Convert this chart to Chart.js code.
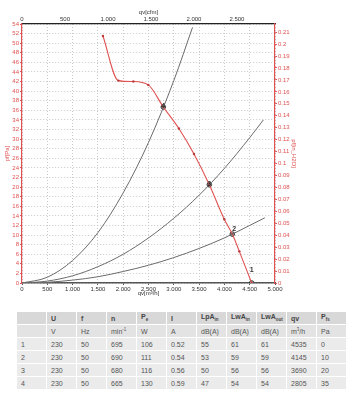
<!DOCTYPE html>
<html>
<head>
<meta charset="utf-8">
<script src="https://cdn.jsdelivr.net/npm/chart.js@4/dist/chart.umd.min.js"></script>
<style>
  body { margin: 0; background: #fff; font-family: "Liberation Sans", Arial, sans-serif; }
  #wrap { position: absolute; left: 0; top: 0; width: 355px; height: 300px; }
  table { position: absolute; left: 16px; top: 311px; width: 331px; border-collapse: separate;
          border-spacing: 1px; font-size: 7px; table-layout: fixed; }
  td { height: 12px; padding: 0 0 0 4px; background: #ebebeb; white-space: nowrap; color: #555555; }
  tr.h1 td { background: #d8d8d8; font-weight: bold; color: #444444; }
  tr.h2 td { background: #e3e3e3; }
  sub { font-size: 4.5px; }
  sup { font-size: 4.5px; }
</style>
</head>
<body>
<div id="wrap"><canvas id="grafica" width="355" height="300"></canvas></div>
<table id="tabla"></table>
<script>
// fan curve (red), m3/h vs Pa
const fanQ = [1600, 1903, 2200, 2496, 2792, 3100, 3399, 3702, 3998, 4156, 4295, 4539];
const fanP = [51.5, 42.2, 42.0, 41.3, 36.7, 32.2, 26.9, 20.5, 13.3, 10.2, 6.6, 0];

// system curves (gray)
const sysAQ = [0, 500, 1000, 1500, 2000, 2500, 3000, 3370];
const sysAP = [0, 1.2, 4.7, 10.5, 18.8, 29.3, 42.2, 53.3];
const sysBQ = [0, 500, 1000, 1500, 2000, 2500, 3000, 3500, 4000, 4500, 4770];
const sysBP = [0, 0.4, 1.5, 3.4, 6.0, 9.4, 13.5, 18.3, 23.9, 30.3, 34.0];
const sysCQ = [0, 500, 1000, 1500, 2000, 2500, 3000, 3500, 4000, 4500, 4800];
const sysCP = [0, 0.15, 0.6, 1.3, 2.4, 3.7, 5.3, 7.2, 9.4, 12.0, 13.6];

// operating points
const opNames = ['1', '2', '3', '4'];
const opQ = [4539, 4156, 3702, 2792];
const opP = [0, 10.2, 20.5, 36.7];

// tick labels
const qTicks = [0, 500, 1000, 1500, 2000, 2500, 3000, 3500, 4000, 4500, 5000];
const cfmTicks = [0, 500, 1000, 1500, 2000, 2500];
const paTicks = [0, 2, 4, 6, 8, 10, 12, 14, 16, 18, 20, 22, 24, 26, 28, 30, 32, 34, 36, 38, 40, 42, 44, 46, 48, 50, 52, 54];
const inTicks = [0, 0.01, 0.02, 0.03, 0.04, 0.05, 0.06, 0.07, 0.08, 0.09, 0.1, 0.11, 0.12, 0.13, 0.14, 0.15, 0.16, 0.17, 0.18, 0.19, 0.2, 0.21];

// table
const colHead = ['', 'U', 'f', 'n', 'P<sub>e</sub>', 'I', 'LpA<sub>in</sub>', 'LwA<sub>in</sub>', 'LwA<sub>out</sub>', 'qv', 'P<sub>fs</sub>'];
const colUnit = ['', 'V', 'Hz', 'min<sup>-1</sup>', 'W', 'A', 'dB(A)', 'dB(A)', 'dB(A)', 'm<sup>3</sup>/h', 'Pa'];
const tabU = [230, 230, 230, 230];
const tabF = [50, 50, 50, 50];
const tabN = [695, 690, 680, 665];
const tabPe = [106, 111, 116, 130];
const tabI = ['0.52', '0.54', '0.56', '0.59'];
const tabLpA = [55, 53, 50, 47];
const tabLwAin = [61, 59, 56, 54];
const tabLwAout = [61, 59, 56, 54];
const tabQv = [4535, 4145, 3690, 2805];
const tabPfs = [0, 10, 20, 35];

const M3H_PER_CFM = 1.699;
const PA_PER_INH2O = 249.089;
const ROJO = '#e05252';

function puntos(xs, ys) { return xs.map((x, i) => ({ x: x, y: ys[i] })); }
function miles(v) {
    if (v < 1000) return String(v);
    const r = v % 1000;
    return Math.floor(v / 1000) + '.' + String(r).padStart(3, '0');
}
function fija(arr) { return function (s) { s.ticks = arr.map(v => ({ value: v })); }; }

const fuente = { family: 'Liberation Sans', size: 6 };

const etiquetas = {
    id: 'etiquetas',
    afterDatasetsDraw(chart) {
        const ctx = chart.ctx, sx = chart.scales.x, sy = chart.scales.y;
        ctx.save();
        ctx.fillStyle = '#333';
        ctx.font = 'bold 7px "Liberation Sans"';
        ctx.textAlign = 'center';
        ctx.textBaseline = 'middle';
        const dx = [0, 2, 0, 0], dy = [-13, -5, -1, -1];
        opNames.forEach((n, i) => {
            ctx.fillText(n, sx.getPixelForValue(opQ[i]) + dx[i], sy.getPixelForValue(opP[i]) + dy[i]);
        });
        ctx.restore();
    }
};

new Chart(document.getElementById('grafica').getContext('2d'), {
    type: 'scatter',
    data: {
        datasets: [
            { data: puntos(sysAQ, sysAP), showLine: true, borderColor: '#6b6b6b', borderWidth: 1, pointRadius: 0, cubicInterpolationMode: 'monotone' },
            { data: puntos(sysBQ, sysBP), showLine: true, borderColor: '#6b6b6b', borderWidth: 1, pointRadius: 0, cubicInterpolationMode: 'monotone' },
            { data: puntos(sysCQ, sysCP), showLine: true, borderColor: '#6b6b6b', borderWidth: 1, pointRadius: 0, cubicInterpolationMode: 'monotone' },
            { data: puntos(fanQ, fanP), showLine: true, borderColor: ROJO, borderWidth: 1.1, pointRadius: 1.2,
              pointBackgroundColor: '#b83a3a', pointBorderWidth: 0, cubicInterpolationMode: 'monotone' },
            { data: puntos(opQ, opP), pointRadius: 2.3, pointBackgroundColor: '#bdbdbd', pointBorderColor: '#333', pointBorderWidth: 1 }
        ]
    },
    options: {
        responsive: false,
        animation: false,
        devicePixelRatio: 1,
        layout: { padding: { right: 55 } },
        plugins: { legend: { display: false }, tooltip: { enabled: false } },
        scales: {
            x: {
                type: 'linear', position: 'bottom', min: 0, max: 5000,
                afterBuildTicks: fija(qTicks),
                afterFit: s => { s.height = 17; },
                ticks: { autoSkip: false, maxRotation: 0, padding: 1, color: '#333', font: fuente, callback: v => miles(v) },
                grid: { color: '#c8c8c8', tickLength: 2, tickColor: '#555' },
                border: { color: '#555', width: 1.5, dash: [1, 2] },
                title: { display: true, text: 'qv[m³/h]', color: '#333', font: fuente, padding: { top: 0, bottom: 3 } }
            },
            x2: {
                type: 'linear', position: 'top', min: 0, max: 5000 / M3H_PER_CFM,
                afterBuildTicks: fija(cfmTicks),
                afterFit: s => { s.height = 24; },
                ticks: { autoSkip: false, maxRotation: 0, padding: 0, color: '#333', font: fuente, callback: v => miles(v) },
                grid: { drawOnChartArea: false, tickLength: 1, tickColor: '#333' },
                border: { color: '#222', width: 1.2 },
                title: { display: true, text: 'qv[cfm]', color: '#333', font: fuente, padding: { top: 9, bottom: 0 } }
            },
            y: {
                type: 'linear', position: 'left', min: 0, max: 54,
                afterBuildTicks: fija(paTicks),
                afterFit: s => { s.width = 22; },
                ticks: { autoSkip: false, padding: 1, color: ROJO, font: fuente },
                grid: { color: '#c8c8c8', tickLength: 2, tickColor: ROJO },
                border: { color: ROJO, width: 1.2, dash: [1, 2] },
                title: { display: true, text: 'pf[Pa]', color: ROJO, font: fuente, padding: { top: 4, bottom: 0 } }
            },
            y2: {
                type: 'linear', position: 'right', min: 0, max: 54 / PA_PER_INH2O,
                afterBuildTicks: fija(inTicks),
                afterFit: s => { s.width = 25; },
                ticks: { autoSkip: false, padding: 1, color: ROJO, font: fuente, callback: v => String(parseFloat(v.toFixed(2))) },
                grid: { drawOnChartArea: false, tickLength: 2, tickColor: ROJO },
                border: { color: ROJO, width: 1.2 },
                title: { display: true, text: 'pf[in_H2O]', color: ROJO, font: fuente, padding: { top: 3, bottom: 0 } }
            }
        }
    },
    plugins: [etiquetas]
});

// build table
const filas = [tabU, tabF, tabN, tabPe, tabI, tabLpA, tabLwAin, tabLwAout, tabQv, tabPfs];
let html = '<colgroup><col style="width:29px">' + '<col>'.repeat(10) + '</colgroup>';
html += '<tr class="h1">' + colHead.map(c => '<td>' + c + '</td>').join('') + '</tr>';
html += '<tr class="h2">' + colUnit.map(c => '<td>' + c + '</td>').join('') + '</tr>';
for (let i = 0; i < 4; i++) {
    html += '<tr><td>' + (i + 1) + '</td>' + filas.map(f => '<td>' + f[i] + '</td>').join('') + '</tr>';
}
document.getElementById('tabla').innerHTML = html;
</script>
</body>
</html>
